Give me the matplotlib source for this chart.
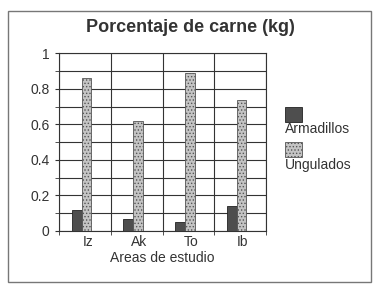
import numpy as np
import matplotlib
matplotlib.use("Agg")
import matplotlib.pyplot as plt
from matplotlib.patches import Rectangle

plt.rcParams['font.family'] = ['Liberation Sans', 'DejaVu Sans']
plt.rcParams['hatch.color'] = '#9a9a9a'
plt.rcParams['hatch.linewidth'] = 0.6

# data
areas = ['Iz', 'Ak', 'To', 'Ib']
armadillos = [0.12, 0.07, 0.05, 0.14]
ungulados = [0.86, 0.62, 0.89, 0.74]
y_ticks = [0, 0.2, 0.4, 0.6, 0.8, 1]
y_tick_labels = ['0', '0.2', '0.4', '0.6', '0.8', '1']

dark = '#4e4e4e'
light = '#c4c4c4'

fig = plt.figure(figsize=(3.8, 2.89), dpi=100)
fig.patch.set_facecolor('white')

# outer frame
fig.patches.append(Rectangle((8 / 380, 1 - 282 / 289), 363 / 380, 271 / 289,
                             transform=fig.transFigure, fill=False,
                             edgecolor='#777777', linewidth=1.0))

ax = fig.add_axes([59.3 / 380, 1 - 231 / 289, 206.7 / 380, 177.7 / 289])

x = np.arange(len(areas))
w = 0.19
ax.bar(x + 0.336 - 0.5, armadillos, width=w, color=dark, edgecolor='#222222', linewidth=0.6,
       label='Armadillos', zorder=3)
ax.bar(x + 0.526 - 0.5, ungulados, width=w, color=light, edgecolor='#555555', linewidth=0.6,
       hatch='.....', label='Ungulados', zorder=3)

ax.set_xlim(-0.5, len(areas) - 0.5)
ax.set_ylim(0, 1)
ax.set_yticks(y_ticks)
ax.set_yticklabels(y_tick_labels, fontsize=10, color='#333333')
ax.set_yticks(np.arange(0.1, 1.0, 0.2), minor=True)
ax.set_xticks(x + 0.05)
ax.set_xticklabels(areas, fontsize=10, color='#333333')
ax.set_xticks(np.arange(len(areas) + 1) - 0.5, minor=True)
ax.tick_params(axis='x', which='major', length=0, pad=3)
ax.tick_params(axis='x', which='minor', length=3, color='#333333')
ax.tick_params(axis='y', which='both', length=3, color='#333333', pad=4)
ax.grid(True, axis='y', which='both', color='#333333', linewidth=0.8, zorder=0)
ax.grid(True, axis='x', which='minor', color='#333333', linewidth=0.8, zorder=0)
ax.set_axisbelow(True)
for s in ax.spines.values():
    s.set_color('#333333')
    s.set_linewidth(0.8)

ax.set_xlabel('Areas de estudio', fontsize=10, color='#333333', labelpad=1)
fig.text(190 / 380, 1 - 27 / 289, 'Porcentaje de carne (kg)', ha='center', va='center',
         fontsize=13, fontweight='bold', color='#333333')

# legend: swatch above each label
fig.patches.append(Rectangle((285 / 380, 1 - 122 / 289), 17 / 380, 15 / 289,
                             transform=fig.transFigure, facecolor=dark, edgecolor='#222222',
                             linewidth=0.6))
fig.text(285 / 380, 1 - 129 / 289, 'Armadillos', ha='left', va='center', fontsize=10, color='#333333')
fig.patches.append(Rectangle((285 / 380, 1 - 157 / 289), 17 / 380, 15 / 289,
                             transform=fig.transFigure, facecolor=light, edgecolor='#555555',
                             hatch='.....', linewidth=0.6))
fig.text(285 / 380, 1 - 165 / 289, 'Ungulados', ha='left', va='center', fontsize=10, color='#333333')

fig.savefig('out.png', dpi=100)
